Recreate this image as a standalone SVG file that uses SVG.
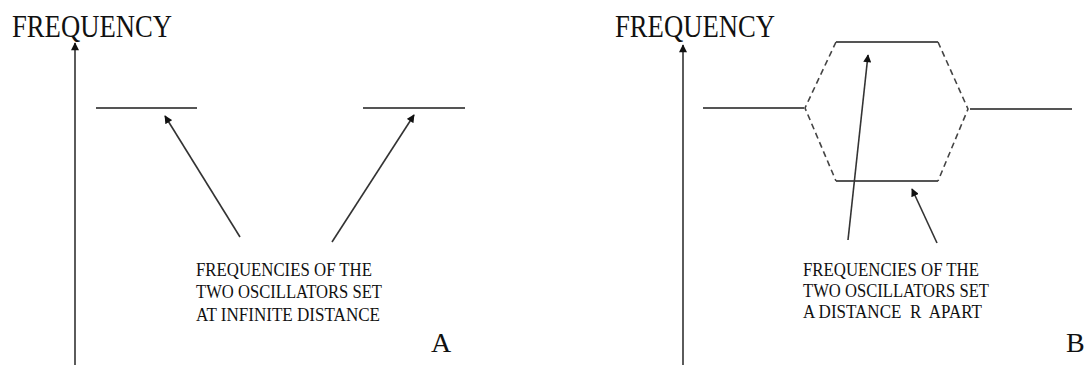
<svg xmlns="http://www.w3.org/2000/svg" width="1085" height="365" viewBox="0 0 1085 365">
<style>
.title{font-family:"Liberation Serif","DejaVu Serif",serif;font-size:32px;fill:#111}
.lbl{font-family:"Liberation Serif","DejaVu Serif",serif;font-size:18px;fill:#111}
.big{font-family:"Liberation Serif","DejaVu Serif",serif;font-size:28px;fill:#111}
.level{stroke:#555;stroke-width:2;fill:none}
.ptr{stroke:#333;stroke-width:1.6;fill:none;marker-end:url(#ah)}
.dash{stroke:#444;stroke-width:1.6;fill:none;stroke-dasharray:6,4}
</style>
<defs>
<marker id="ah" viewBox="0 0 10 10" refX="9" refY="5" markerWidth="9" markerHeight="8" markerUnits="userSpaceOnUse" orient="auto">
<path d="M0,0 L10,5 L0,10 z" fill="#111"/>
</marker>
</defs>
<g id="panelA">
<text class="title" x="12" y="37" textLength="160" lengthAdjust="spacingAndGlyphs">FREQUENCY</text>
<g id="levelA1"><line class="level" x1="96" y1="108" x2="197" y2="108"/></g>
<g id="levelA2"><line class="level" x1="363" y1="108" x2="465" y2="108"/></g>
<g id="labelA">
<text class="lbl" x="196" y="276" textLength="176" lengthAdjust="spacingAndGlyphs">FREQUENCIES OF THE</text>
<text class="lbl" x="196" y="298" textLength="186" lengthAdjust="spacingAndGlyphs">TWO OSCILLATORS SET</text>
<text class="lbl" x="196" y="321" textLength="184" lengthAdjust="spacingAndGlyphs">AT INFINITE DISTANCE</text>
</g>
<text class="big" x="431" y="352">A</text>
</g>
<g id="panelB">
<text class="title" x="615" y="37" textLength="160" lengthAdjust="spacingAndGlyphs">FREQUENCY</text>
<g id="levelB1"><line class="level" x1="703" y1="108" x2="804" y2="108"/></g>
<g id="levelB2"><line class="level" x1="970" y1="109" x2="1072" y2="109"/></g>
<g id="levelBtop"><line class="level" x1="836" y1="42" x2="938" y2="42"/></g>
<g id="levelBbot"><line class="level" x1="836" y1="181" x2="938" y2="181"/></g>
<g id="labelB">
<text class="lbl" x="803" y="276" textLength="176" lengthAdjust="spacingAndGlyphs">FREQUENCIES OF THE</text>
<text class="lbl" x="803" y="297" textLength="186" lengthAdjust="spacingAndGlyphs">TWO OSCILLATORS SET</text>
<text class="lbl" x="803" y="318" textLength="179" lengthAdjust="spacingAndGlyphs" xml:space="preserve">A DISTANCE  R  APART</text>
</g>
<text class="big" x="1066" y="352">B</text>
</g>
<g id="connectors">
<line class="ptr" x1="75" y1="365" x2="75" y2="43"/>
<line class="ptr" x1="240" y1="237" x2="165" y2="116"/>
<line class="ptr" x1="332" y1="242" x2="414" y2="115"/>
<line class="ptr" x1="683" y1="365" x2="683" y2="45"/>
<line class="ptr" x1="848" y1="240" x2="868" y2="55"/>
<line class="ptr" x1="937" y1="243" x2="912" y2="189"/>
<path class="dash" d="M836,42 L805,108 L836,181"/>
<path class="dash" d="M938,42 L968,109 L938,181"/>
</g>
</svg>
